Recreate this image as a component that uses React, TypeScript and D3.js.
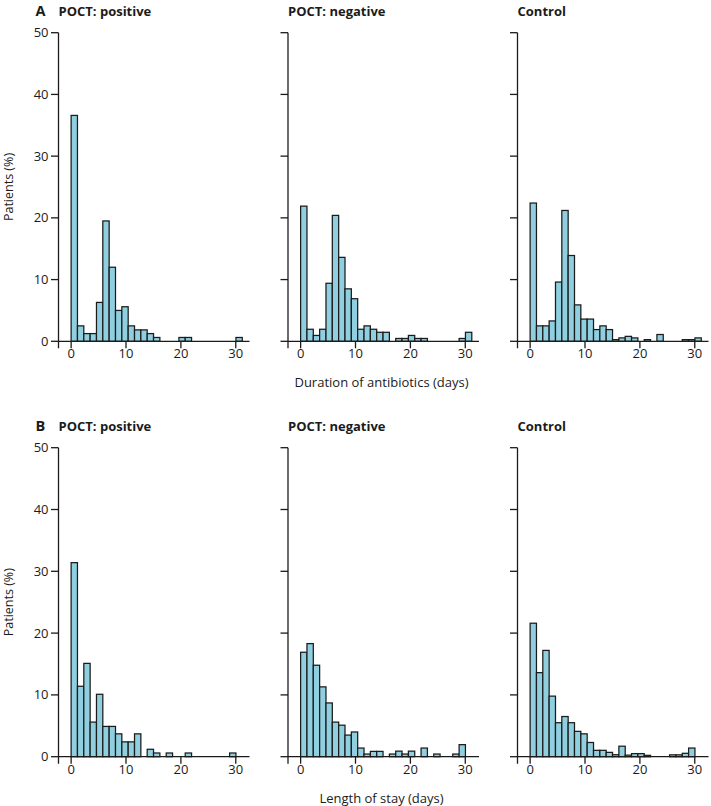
import React from 'react';
import * as d3 from 'd3';

// ---- data (percent of patients per bin; bins of equal width starting at day 0) ----
const binWidth = 1.155;
const xTicks = [0, 10, 20, 30];
const yTicks = [0, 10, 20, 30, 40, 50];
const panelTitles = ['POCT: positive', 'POCT: negative', 'Control'];
const rowLetters = ['A', 'B'];
const xAxisTitles = ['Duration of antibiotics (days)', 'Length of stay (days)'];
const yAxisTitle = 'Patients (%)';

const abxPositive = [36.6, 2.5, 1.25, 1.25, 6.3, 19.5, 12.0, 5.0, 5.6, 2.5, 1.85, 1.85, 1.25, 0.62, 0, 0, 0, 0.62, 0.62, 0, 0, 0, 0, 0, 0, 0, 0.62];
const abxNegative = [21.9, 1.95, 0.95, 1.95, 9.4, 20.4, 13.6, 8.5, 6.9, 1.95, 2.5, 1.95, 1.46, 1.46, 0, 0.46, 0.46, 0.95, 0.46, 0.46, 0, 0, 0, 0, 0, 0.46, 1.46];
const abxControl = [22.4, 2.5, 2.5, 3.3, 9.6, 21.2, 13.9, 5.9, 3.6, 3.6, 1.9, 2.5, 1.9, 0.27, 0.55, 0.8, 0.55, 0, 0.27, 0, 1.1, 0, 0, 0, 0.27, 0.27, 0.55];

const losPositive = [31.4, 11.4, 15.1, 5.6, 10.1, 4.9, 4.9, 3.7, 2.4, 2.4, 3.7, 0, 1.2, 0.6, 0, 0.6, 0, 0, 0.6, 0, 0, 0, 0, 0, 0, 0.6];
const losNegative = [16.9, 18.3, 14.8, 11.3, 8.7, 5.6, 5.1, 3.5, 4.0, 1.4, 0.43, 0.86, 0.86, 0, 0.43, 0.9, 0.43, 0.9, 0, 1.4, 0, 0.43, 0, 0, 0.43, 1.95];
const losControl = [21.6, 13.6, 17.2, 9.8, 5.5, 6.5, 5.5, 4.1, 3.7, 2.3, 1.03, 1.03, 0.7, 0.32, 1.7, 0.25, 0.5, 0.5, 0.22, 0, 0, 0, 0.3, 0.3, 0.55, 1.4];

const rows = [
  [abxPositive, abxNegative, abxControl],
  [losPositive, losNegative, losControl],
];

// ---- layout ----
const W = 711;
const H = 806;
const panelAxisX = [58.5, 288, 517.5];
const panelWidth = 191;
const rowTopY = [32.7, 447.7];
const rowBaseY = [341.3, 756.7];
const FONT = "'Open Sans', 'DejaVu Sans', sans-serif";
const BAR_FILL = '#8fcfe0';
const INK = '#1b1b1b';

function Panel({ values, ax, top, base, showYLabels, title, letter }:
  { values: number[]; ax: number; top: number; base: number; showYLabels: boolean; title: string; letter?: string }) {
  const x = d3.scaleLinear().domain([-2.3, 32.5]).range([ax, ax + panelWidth]);
  const y = d3.scaleLinear().domain([0, 50]).range([base, top]);
  const bins = values.map((v, i) => ({ x0: i * binWidth, x1: (i + 1) * binWidth, v })).filter(b => b.v > 0);
  return (
    <g>
      {letter && (
        <text x={ax - 23} y={top - 17.2} fontFamily={FONT} fontWeight={700} fontSize={14.5} fill={INK}>{letter}</text>
      )}
      <text x={ax} y={top - 17.2} fontFamily={FONT} fontWeight={700} fontSize={13} fill={INK}>{title}</text>
      {bins.map((b, i) => (
        <rect key={i} x={x(b.x0)} y={y(b.v)} width={x(b.x1) - x(b.x0)} height={y(0) - y(b.v)}
          fill={BAR_FILL} stroke={INK} strokeWidth={1.25} />
      ))}
      {/* y axis */}
      <line x1={ax} x2={ax} y1={top} y2={base + 7} stroke={INK} strokeWidth={1.3} />
      {yTicks.map(t => (
        <g key={t}>
          <line x1={ax - 7.5} x2={ax} y1={y(t)} y2={y(t)} stroke={INK} strokeWidth={1.3} />
          {showYLabels && (
            <text x={ax - 10} y={y(t)} dy="0.35em" textAnchor="end" fontFamily={FONT} fontSize={13} fill={INK}>{t}</text>
          )}
        </g>
      ))}
      {/* x axis */}
      <line x1={ax} x2={ax + panelWidth} y1={base} y2={base} stroke={INK} strokeWidth={1.3} />
      {xTicks.map(t => (
        <g key={t}>
          <line x1={x(t)} x2={x(t)} y1={base} y2={base + 7} stroke={INK} strokeWidth={1.3} />
          <text x={x(t)} y={base + 17} textAnchor="middle" fontFamily={FONT} fontSize={13} fill={INK}>{t}</text>
        </g>
      ))}
    </g>
  );
}

export default function App() {
  return (
    <svg width={W} height={H} style={{ position: 'absolute', left: 0, top: 0, background: '#fff' }}>
      <rect width={W} height={H} fill="#fff" />
      {rows.map((row, r) => (
        <g key={r}>
          {row.map((vals, p) => (
            <Panel key={p} values={vals} ax={panelAxisX[p]} top={rowTopY[r]} base={rowBaseY[r]}
              showYLabels={p === 0} title={panelTitles[p]} letter={p === 0 ? rowLetters[r] : undefined} />
          ))}
          <text transform={`translate(12.5,${(rowTopY[r] + rowBaseY[r]) / 2}) rotate(-90)`} textAnchor="middle"
            fontFamily={FONT} fontSize={12.5} fill={INK}>{yAxisTitle}</text>
          <text x={panelAxisX[1] + panelWidth / 2 - 2} y={rowBaseY[r] + 46} textAnchor="middle"
            fontFamily={FONT} fontSize={13} fill={INK}>{xAxisTitles[r]}</text>
        </g>
      ))}
    </svg>
  );
}
